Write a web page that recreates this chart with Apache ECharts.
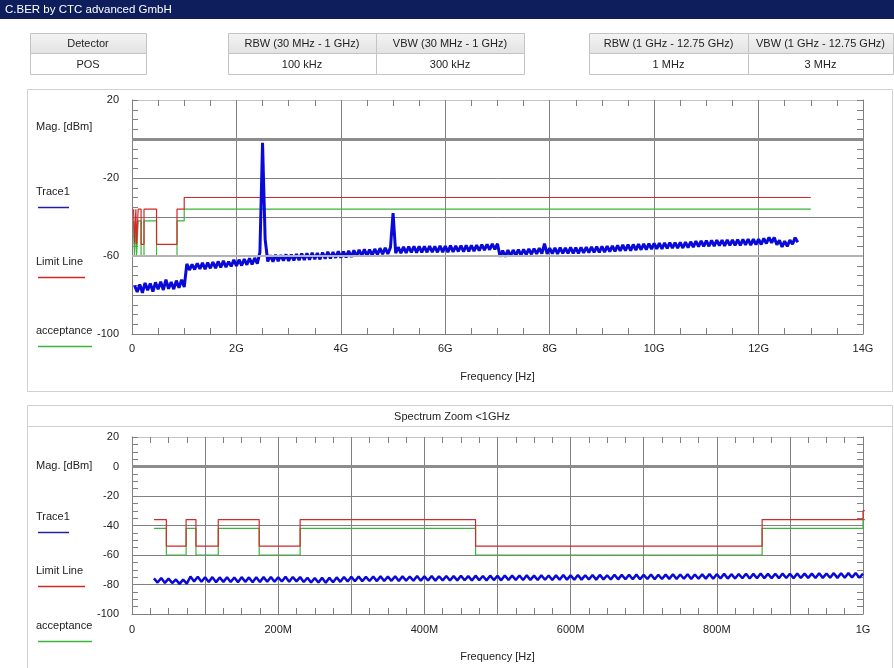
<!DOCTYPE html>
<html><head><meta charset="utf-8">
<script src="https://cdn.jsdelivr.net/npm/echarts/dist/echarts.min.js"></script>
<style>html,body{margin:0;padding:0;background:#fff;overflow:hidden}#c{width:894px;height:668px}</style>
</head><body><div id="c"></div>
<script>
// ---------- DATA ----------
var titleText = 'C.BER by CTC advanced GmbH';
var headerLabels = ['Detector', 'RBW (30 MHz - 1 GHz)', 'VBW (30 MHz - 1 GHz)', 'RBW (1 GHz - 12.75 GHz)', 'VBW (1 GHz - 12.75 GHz)'];
var headerValues = ['POS', '100 kHz', '300 kHz', '1 MHz', '3 MHz'];
var legendNames = ['Trace1', 'Limit Line', 'acceptance'];
var yAxisTitle = 'Mag. [dBm]';
var xAxisTitle = 'Frequency [Hz]';
var zoomTitle = 'Spectrum Zoom <1GHz';
var topYLabelValues = [20, -20, -60, -100];

// limit line / acceptance (MHz edges, dBm levels; last edge repeats last level)
var limitEdgesMHz = [30, 47, 74, 87.5, 118, 174, 230, 470, 862, 1000, 13000];
var limitLevels = [-36, -54, -36, -54, -36, -54, -36, -54, -36, -30];
var acceptanceLevels = [-42, -60, -42, -60, -42, -60, -42, -60, -42, -36];

// top trace: 0.05 GHz .. 12.75 GHz, 0.05 GHz sweep step
var topStartGHz = 0.05, topStepGHz = 0.05;
var topTrace = [
-75.2,-78.4,-74.6,-78.9,-73.8,-77.6,-74.1,-78.2,-73.5,-77.1,
-73.2,-77.4,-72.1,-76.8,-73.4,-77.0,-72.6,-76.3,-72.2,-75.9,
-64.0,-67.2,-64.3,-66.9,-63.8,-66.6,-63.5,-66.8,-63.4,-66.3,
-63.1,-66.2,-62.8,-65.9,-62.5,-65.7,-62.9,-65.3,-62.0,-65.1,
-61.9,-64.9,-61.6,-64.5,-61.2,-64.3,-61.0,-63.9,-58.0,-2.0,
-51.5,-62.8,-59.6,-62.9,-59.4,-62.6,-59.5,-62.4,-59.2,-62.5,
-59.3,-62.3,-59.0,-62.2,-58.8,-62.0,-58.6,-61.9,-58.4,-61.6,
-58.5,-61.7,-58.2,-61.4,-57.9,-61.2,-58.0,-60.9,-57.6,-60.8,
-57.7,-60.7,-57.3,-60.5,-57.1,-60.2,-56.8,-60.0,-56.6,-59.8,
-56.7,-59.7,-56.4,-59.3,-56.0,-59.1,-55.8,-58.9,-55.6,-38.0,
-58.6,-55.5,-58.5,-55.3,-58.4,-55.2,-58.2,-55.0,-58.3,-55.1,
-58.2,-55.0,-58.1,-54.9,-58.0,-55.1,-58.1,-54.8,-58.0,-54.9,
-58.0,-54.7,-57.9,-54.8,-57.7,-54.6,-57.8,-54.5,-57.6,-54.6,
-57.5,-54.4,-57.3,-54.2,-57.0,-54.0,-56.8,-53.8,-56.6,-53.7,
-60.4,-57.2,-60.3,-57.0,-60.1,-56.9,-59.8,-56.7,-59.6,-56.6,
-59.3,-56.3,-59.1,-56.2,-58.9,-56.0,-58.8,-53.6,-58.9,-56.0,
-58.8,-55.8,-58.9,-55.7,-58.7,-55.9,-58.6,-55.6,-58.7,-55.7,
-58.6,-55.6,-58.4,-55.5,-58.3,-55.3,-58.1,-55.2,-58.2,-55.0,
-58.0,-54.9,-57.8,-54.8,-57.6,-54.6,-57.4,-54.3,-57.3,-54.2,
-57.2,-54.1,-57.0,-53.9,-56.8,-53.8,-56.7,-53.6,-56.5,-53.5,
-56.4,-53.4,-56.3,-53.3,-56.1,-53.2,-56.0,-53.1,-55.9,-53.0,
-55.9,-52.9,-55.7,-52.7,-55.4,-52.4,-55.2,-52.2,-55.1,-52.1,
-55.0,-52.0,-54.9,-51.9,-54.7,-51.8,-54.8,-51.7,-54.6,-51.7,
-54.6,-51.6,-54.5,-51.5,-54.3,-51.4,-54.4,-51.3,-54.2,-51.3,
-54.1,-51.0,-53.6,-50.4,-53.2,-50.5,-54.2,-52.0,-55.3,-52.4,
-55.1,-51.8,-54.0,-50.6,-52.9
];

// zoom trace: 30 MHz .. 1000 MHz, 5 MHz sweep step
var zoomStartMHz = 30, zoomStepMHz = 5;
var zoomTrace = [
-75.9,-78.7,-75.6,-78.9,-76.0,-79.0,-76.6,-79.6,-76.7,-79.4,
-74.6,-77.9,-74.8,-78.1,-75.1,-78.3,-75.0,-78.4,-75.2,-78.2,
-75.1,-78.3,-75.3,-78.4,-75.0,-78.2,-75.2,-78.5,-75.1,-78.3,
-75.0,-78.2,-74.9,-78.1,-75.1,-78.0,-74.8,-78.1,-74.9,-77.9,
-75.0,-78.3,-75.4,-78.6,-75.6,-78.7,-75.5,-78.8,-75.4,-78.5,
-75.2,-78.2,-74.9,-77.9,-74.7,-77.8,-74.6,-77.7,-74.8,-77.6,
-74.6,-77.7,-74.5,-77.6,-74.7,-77.5,-74.4,-77.6,-74.5,-77.4,
-74.6,-77.5,-74.3,-77.4,-74.5,-77.3,-74.2,-77.4,-74.4,-77.2,
-74.2,-77.3,-74.3,-77.2,-74.1,-77.1,-74.3,-77.3,-74.0,-77.1,
-74.2,-77.2,-74.0,-77.0,-74.1,-77.2,-73.9,-77.0,-74.0,-76.9,
-73.9,-77.0,-73.8,-76.9,-74.0,-77.0,-73.7,-76.8,-73.9,-76.9,
-73.8,-76.8,-73.6,-76.7,-73.8,-76.8,-73.5,-76.7,-73.7,-76.6,
-73.6,-76.7,-73.5,-76.5,-73.7,-76.6,-73.4,-76.5,-73.5,-76.4,
-73.4,-76.5,-73.3,-76.4,-73.5,-76.3,-73.2,-76.4,-73.4,-76.3,
-73.3,-76.2,-73.1,-76.3,-73.2,-76.1,-73.0,-76.2,-73.2,-76.1,
-73.1,-76.0,-72.9,-76.1,-73.0,-75.9,-72.8,-76.0,-73.0,-75.9,
-72.9,-75.8,-72.7,-75.9,-72.8,-75.8,-72.6,-75.7,-72.8,-75.8,
-72.7,-75.7,-72.6,-75.6,-72.7,-75.7,-72.5,-75.6,-72.6,-75.5,
-72.6,-75.6,-72.4,-75.5,-72.5,-75.4,-72.3,-75.5,-72.4,-75.4,
-72.3,-75.3,-72.2,-75.4,-72.6
];

// ---------- BUILD ----------
var FONT = '"Liberation Sans", Arial, sans-serif';
var C_TRACE = '#0a0ad8', C_RED = '#d22828', C_GREEN = '#3cb43c';
var C_GRID = '#808080', C_TXT = '#222';

function tracePairs(start, step, vals, scale) {
  return vals.map(function (v, i) { return [(start + i * step) * scale, v]; });
}
function stepPairs(edges, levels, scale) {
  return edges.map(function (e, i) { return [e * scale, levels[Math.min(i, levels.length - 1)]]; });
}

var g = [];
function rect(x, y, w, h, fill, stroke) {
  g.push({ type: 'rect', silent: true, shape: { x: x, y: y, width: w, height: h },
    style: { fill: fill || 'none', stroke: stroke || null, lineWidth: 1 } });
}
function line(x1, y1, x2, y2, color, w) {
  g.push({ type: 'line', silent: true, shape: { x1: x1, y1: y1, x2: x2, y2: y2 },
    style: { stroke: color, lineWidth: w || 1 } });
}
function text(s, x, y, align, color, size) {
  g.push({ type: 'text', silent: true, style: { text: s, x: x, y: y, fill: color || C_TXT,
    font: (size || 11) + 'px ' + FONT, align: align || 'left', verticalAlign: 'middle' } });
}

// title bar
rect(0, 0, 894, 19, '#0e1d5c');
text(titleText, 5, 10, 'left', '#ffffff', 11.5);

// header boxes
var boxX = [[30, 146], [228, 376], [376, 524], [589, 748], [748, 893]];
boxX.forEach(function (b, i) {
  var w = b[1] - b[0];
  g.push({ type: 'rect', silent: true, shape: { x: b[0] + 0.5, y: 33.5, width: w, height: 20 },
    style: { fill: new echarts.graphic.LinearGradient(0, 0, 0, 1, [{ offset: 0, color: '#f4f4f4' }, { offset: 1, color: '#e2e2e2' }]), stroke: '#c4c4c4', lineWidth: 1 } });
  rect(b[0] + 0.5, 53.5, w, 21, '#ffffff', '#c4c4c4');
  text(headerLabels[i], b[0] + w / 2, 44, 'center');
  text(headerValues[i], b[0] + w / 2, 64.5, 'center');
});

// panels
rect(27.5, 89.5, 865, 302, null, '#d0d0d0');
rect(27.5, 405.5, 865, 280, null, '#d0d0d0');
line(28, 426.5, 892, 426.5, '#d0d0d0', 1);
text(zoomTitle, 452, 417, 'center');

// legends
function legend(yMag, yT, yL, yA) {
  text(yAxisTitle, 36, yMag);
  text(legendNames[0], 36, yT);
  line(38, yT + 15.5, 69, yT + 15.5, '#2020a0', 1.5);
  text(legendNames[1], 36, yL);
  line(38, yL + 15.5, 85, yL + 15.5, C_RED, 1.5);
  text(legendNames[2], 36, yA);
  line(38, yA + 15.5, 92, yA + 15.5, C_GREEN, 1.5);
}
legend(127, 192, 262, 331);
legend(466, 517, 571, 626);

function xAxes(gi, max, interval, fmt, margin) {
  var common = { gridIndex: gi, type: 'value', min: 0, max: max, interval: interval,
    axisTick: { show: true, inside: true, length: 6, lineStyle: { color: C_GRID } },
    minorTick: { show: true, splitNumber: 4, length: 6, lineStyle: { color: C_GRID } } };
  return [
    Object.assign({}, common, { position: 'bottom',
      axisLine: { show: true, onZero: false, lineStyle: { color: C_GRID } },
      splitLine: { show: true, lineStyle: { color: C_GRID, width: 1 } },
      axisLabel: { show: true, margin: margin, color: C_TXT, fontSize: 11, fontFamily: FONT, formatter: fmt, showMinLabel: true, showMaxLabel: true },
      name: xAxisTitle, nameLocation: 'middle', nameGap: 37,
      nameTextStyle: { color: C_TXT, fontSize: 11, fontFamily: FONT } }),
    Object.assign({}, common, { position: 'top',
      axisLine: { show: true, onZero: false, lineStyle: { color: '#c4c4c4' } },
      splitLine: { show: false }, axisLabel: { show: false } })
  ];
}
function yAxes(gi, fmt) {
  var common = { gridIndex: gi, type: 'value', min: -100, max: 20, interval: 20,
    axisTick: { show: true, inside: true, length: 6, lineStyle: { color: C_GRID } },
    minorTick: { show: true, splitNumber: 4, length: 6, lineStyle: { color: C_GRID } } };
  return [
    Object.assign({}, common, { position: 'left',
      axisLine: { show: true, onZero: false, lineStyle: { color: C_GRID } },
      splitLine: { show: true, lineStyle: { color: C_GRID, width: 1 } },
      axisLabel: { show: true, margin: 13, color: C_TXT, fontSize: 11, fontFamily: FONT, formatter: fmt } }),
    Object.assign({}, common, { position: 'right',
      axisLine: { show: true, onZero: false, lineStyle: { color: C_GRID } },
      splitLine: { show: false }, axisLabel: { show: false } })
  ];
}

var topXFmt = function (v) { return v === 0 ? '0' : v + 'G'; };
var zoomXFmt = function (v) { if (v % 200 !== 0) return ''; if (v === 0) return '0'; if (v === 1000) return '1G'; return v + 'M'; };
var topYFmt = function (v) { return topYLabelValues.indexOf(v) >= 0 ? String(v) : ''; };
var zoomYFmt = function (v) { return String(v); };

function refLines(vals) {
  return { silent: true, symbol: 'none', label: { show: false }, animation: false,
    data: vals.map(function (r) { return { yAxis: r[0], lineStyle: { color: r[1], width: r[2], type: 'solid' } }; }) };
}

var option = {
  animation: false,
  backgroundColor: '#ffffff',
  graphic: g,
  grid: [
    { left: 132, top: 100, width: 731, height: 234 },
    { left: 132, top: 437, width: 731, height: 177 }
  ],
  xAxis: xAxes(0, 14, 2, topXFmt, 9).concat(xAxes(1, 1000, 100, zoomXFmt, 10)),
  yAxis: yAxes(0, topYFmt).concat(yAxes(1, zoomYFmt)),
  series: [
    { type: 'line', xAxisIndex: 0, yAxisIndex: 0, data: [], symbol: 'none', z: 1,
      markLine: refLines([[0, '#8c8c8c', 3], [-60, '#b4b4b4', 2]]) },
    { type: 'line', xAxisIndex: 0, yAxisIndex: 0, step: 'end', symbol: 'none', z: 3,
      lineStyle: { color: C_GREEN, width: 1.2 }, data: stepPairs(limitEdgesMHz, acceptanceLevels, 0.001) },
    { type: 'line', xAxisIndex: 0, yAxisIndex: 0, step: 'end', symbol: 'none', z: 3,
      lineStyle: { color: C_RED, width: 1.2 }, data: stepPairs(limitEdgesMHz, limitLevels, 0.001) },
    { type: 'line', xAxisIndex: 0, yAxisIndex: 0, symbol: 'none', z: 4,
      lineStyle: { color: C_TRACE, width: 3 }, data: tracePairs(topStartGHz, topStepGHz, topTrace, 1) },

    { type: 'line', xAxisIndex: 2, yAxisIndex: 2, data: [], symbol: 'none', z: 1,
      markLine: refLines([[0, '#8c8c8c', 3]]) },
    { type: 'line', xAxisIndex: 2, yAxisIndex: 2, step: 'end', symbol: 'none', z: 3,
      lineStyle: { color: C_GREEN, width: 1.2 }, data: stepPairs(limitEdgesMHz, acceptanceLevels, 1) },
    { type: 'line', xAxisIndex: 2, yAxisIndex: 2, step: 'end', symbol: 'none', z: 3,
      lineStyle: { color: C_RED, width: 1.2 }, data: stepPairs(limitEdgesMHz, limitLevels, 1) },
    { type: 'line', xAxisIndex: 2, yAxisIndex: 2, symbol: 'none', z: 4,
      lineStyle: { color: C_TRACE, width: 2.5 }, data: tracePairs(zoomStartMHz, zoomStepMHz, zoomTrace, 1) }
  ]
};
var chart = echarts.init(document.getElementById('c'), null, { renderer: 'canvas' });
chart.setOption(option);
</script></body></html>
